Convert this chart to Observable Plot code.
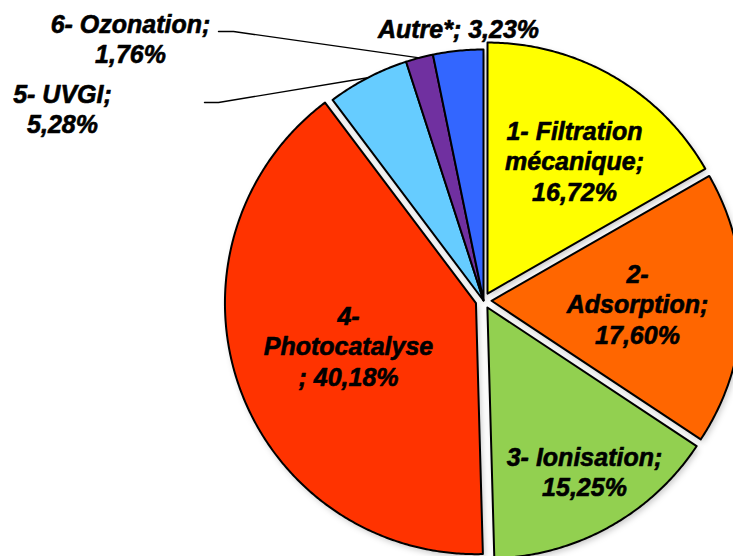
<!DOCTYPE html>
<html><head><meta charset="utf-8">
<script src="https://cdn.jsdelivr.net/npm/d3@7"></script>
<script src="https://cdn.jsdelivr.net/npm/@observablehq/plot@0.6"></script>
<style>html,body{margin:0;padding:0;background:#fff;overflow:hidden;}</style>
</head><body><div id="chart"></div>
<script>
// ---- data ----
const categories = ["1- Filtration mécanique", "2- Adsorption", "3- Ionisation", "4- Photocatalyse", "5- UVGI", "6- Ozonation", "Autre*"];
const values = [16.72, 17.60, 15.25, 40.18, 5.28, 1.76, 3.23];
const labelLines = [
  ["1- Filtration", "mécanique;", "16,72%"],
  ["2-", "Adsorption;", "17,60%"],
  ["3- Ionisation;", "15,25%"],
  ["4-", "Photocatalyse", "; 40,18%"],
  ["5- UVGI;", "5,28%"],
  ["6- Ozonation;", "1,76%"],
  ["Autre*; 3,23%"]
];
const colors = ["#FFFF00", "#FF6600", "#92D050", "#FF3300", "#66CCFF", "#7030A0", "#3366FF"];

// ---- layout ----
const W = 733, H = 556, CX = 483, CY = 300, R = 251;
const explode = [8, 8, 8, 8, 0, 0, 0];
const labelAt = [[574, 139], [637, 282], [584, 465], [348, 324], [62, 102], [130, 32], [458, 37]];
const LINE = 30.5;
const leaderStart = {5: [[218, 31], [233, 31]], 4: [[204, 102], [218, 102]]};

const total = d3.sum(values);
const angles = [];
let acc = 0;
values.forEach(v => {
  const a0 = acc / total * 2 * Math.PI;
  acc += v;
  const a1 = acc / total * 2 * Math.PI;
  angles.push([a0, a1]);
});

const slices = values.map((v, i) => {
  const [a0, a1] = angles[i];
  const mid = (a0 + a1) / 2;
  const ox = CX + explode[i] * Math.sin(mid), oy = CY - explode[i] * Math.cos(mid);
  const pts = [{x: ox, y: oy}];
  const n = Math.max(2, Math.ceil((a1 - a0) / (Math.PI / 360)));
  for (let k = 0; k <= n; k++) {
    const a = a0 + (a1 - a0) * k / n;
    pts.push({x: ox + R * Math.sin(a), y: oy - R * Math.cos(a)});
  }
  return pts;
});

const leaders = Object.entries(leaderStart).map(([i, start]) => {
  const [a0, a1] = angles[+i];
  const mid = (a0 + a1) / 2;
  const ox = CX + explode[+i] * Math.sin(mid), oy = CY - explode[+i] * Math.cos(mid);
  return [...start.map(([x, y]) => ({x, y})), {x: ox + R * Math.sin(mid), y: oy - R * Math.cos(mid)}];
});

const textRows = [];
labelLines.forEach((lines, i) => {
  lines.forEach((t, k) => textRows.push({x: labelAt[i][0], y: labelAt[i][1] + k * LINE, text: t, cat: categories[i]}));
});

const marks = [];
slices.forEach(pts => marks.push(Plot.line(pts, {
  x: "x", y: "y", curve: "linear-closed", fill: "#000", fillOpacity: 0.22, stroke: "none",
  dx: 2, dy: 3, imageFilter: "blur(3px)"
})));
slices.forEach((pts, i) => marks.push(Plot.line(pts, {
  x: "x", y: "y", curve: "linear-closed", fill: colors[i], stroke: "#000", strokeWidth: 2, strokeLinejoin: "round"
})));
leaders.forEach(pts => marks.push(Plot.line(pts, {x: "x", y: "y", stroke: "#000", strokeWidth: 1.4})));
marks.push(Plot.text(textRows, {
  x: "x", y: "y", text: "text", lineAnchor: "bottom", textAnchor: "middle",
  fontSize: 25, fontWeight: "bold", fontStyle: "italic",
  fontFamily: "'Liberation Sans', Arial, sans-serif", fill: "#000",
  stroke: "#000", strokeWidth: 0.6
}));

const chart = Plot.plot({
  width: W, height: H, margin: 0,
  x: {domain: [0, W], range: [0, W], axis: null},
  y: {domain: [0, H], range: [0, H], axis: null},
  style: {background: "#fff"},
  marks
});
document.getElementById("chart").appendChild(chart);
</script>
</body></html>
